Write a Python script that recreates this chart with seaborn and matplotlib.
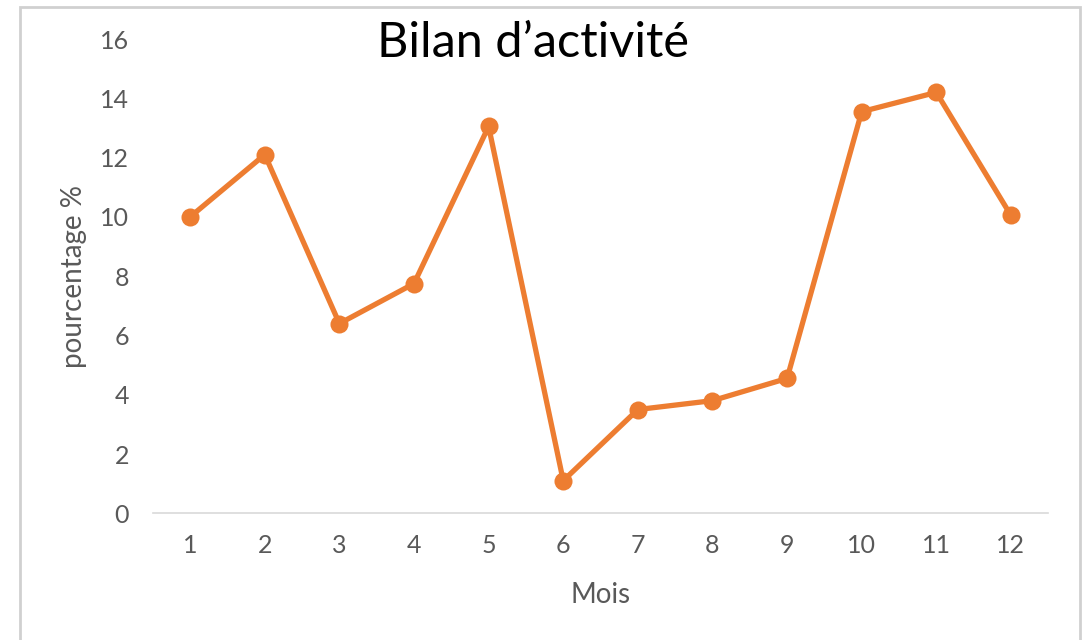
import pandas as pd
import seaborn as sns
import matplotlib.pyplot as plt
from matplotlib.patches import Rectangle

# monthly activity values
mois = [1, 2, 3, 4, 5, 6, 7, 8, 9, 10, 11, 12]
pourcentage = [10.0, 12.1, 6.4, 7.75, 13.05, 1.1, 3.5, 3.8, 4.55, 13.55, 14.2, 10.05]
y_ticks = [0, 2, 4, 6, 8, 10, 12, 14, 16]

data = pd.DataFrame({'Mois': mois, 'pourcentage': pourcentage})

sns.set_style('white')
plt.rcParams['font.family'] = ['Lato', 'DejaVu Sans']

fig = plt.figure(figsize=(10.84, 6.4), dpi=100)
ax = fig.add_axes([0.141, 0.198, 0.826, 0.741])

sns.lineplot(data=data, x='Mois', y='pourcentage', ax=ax, color='#ED7D31',
             linewidth=3.8, marker='o', markersize=13, markeredgewidth=0)

ax.set_xlim(0.5, 12.5)
ax.set_ylim(0, 16)
ax.set_xticks(mois)
ax.set_yticks(y_ticks)
ax.tick_params(axis='both', length=0, labelsize=18, labelcolor='#595959')
ax.tick_params(axis='y', pad=17)
ax.tick_params(axis='x', pad=15)

sns.despine(ax=ax, left=True)
ax.spines['bottom'].set_color('#D9D9D9')
ax.spines['bottom'].set_linewidth(1.2)

ax.set_xlabel('Mois', fontsize=20, color='#595959')
ax.set_ylabel('pourcentage %', fontsize=20, color='#595959')
ax.xaxis.set_label_coords(0.5, -0.145)
ax.yaxis.set_label_coords(-0.074, 0.5)

fig.text(0.492, 0.933, 'Bilan d\u2019activit\u00e9', fontsize=35, color='black',
         ha='center', va='center')

# light frame around the chart
fig.patches.append(Rectangle((0.018, -0.02), 0.978, 1.009, transform=fig.transFigure,
                             fill=False, edgecolor='#D0D0D0', linewidth=2))

plt.savefig('out.png', dpi=100)
